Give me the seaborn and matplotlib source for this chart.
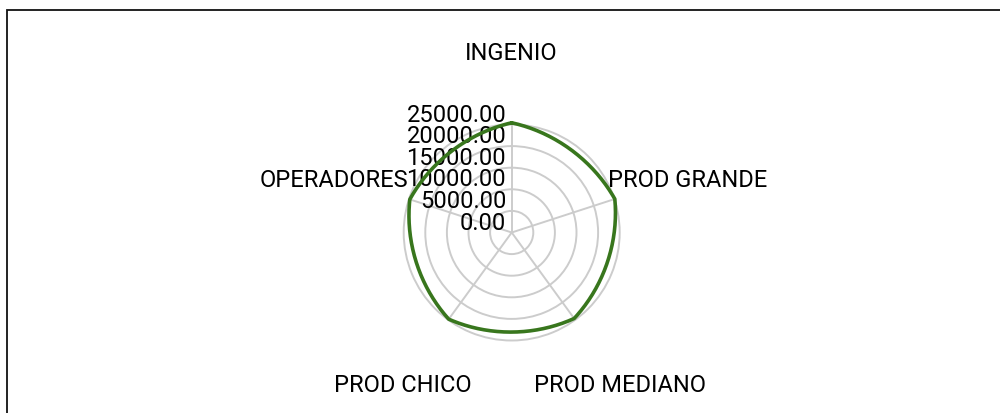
import numpy as np
import matplotlib
matplotlib.use("Agg")
import matplotlib.pyplot as plt
from matplotlib.patches import Rectangle
import seaborn as sns

# data
categories = ["INGENIO", "PROD GRANDE", "PROD MEDIANO", "PROD CHICO", "OPERADORES"]
values = [25400, 25100, 24600, 24800, 24800]
radial_ticks = [0, 5000, 10000, 15000, 20000, 25000]

sns.set_style("white")
plt.rcParams["font.family"] = ["Roboto", "DejaVu Sans"]

W, H = 1000, 414
fig = plt.figure(figsize=(W / 100, H / 100), dpi=100)

# polar axes centred on the radar
cx, cy, R = 511.7, 233.5, 108
ax = fig.add_axes([(cx - R) / W, (H - cy - R) / H, 2 * R / W, 2 * R / H], projection="polar")
ax.set_theta_zero_location("N")
ax.set_theta_direction(-1)

n = len(categories)
angles = np.linspace(0, 2 * np.pi, n, endpoint=False)

# curved segments: blend of polar (arc) and straight interpolation
w = 0.65
s = np.linspace(0, 1, 60)
xs, ys = [], []
for i in range(n):
    t0 = angles[i]
    t1 = angles[i] + 2 * np.pi / n
    r0, r1 = values[i], values[(i + 1) % n]
    th = t0 + s * (t1 - t0)
    rr = r0 + s * (r1 - r0)
    ax_x, ax_y = rr * np.sin(th), rr * np.cos(th)
    p0 = np.array([r0 * np.sin(t0), r0 * np.cos(t0)])
    p1 = np.array([r1 * np.sin(t1), r1 * np.cos(t1)])
    ch_x = p0[0] + s * (p1[0] - p0[0])
    ch_y = p0[1] + s * (p1[1] - p0[1])
    xs.append(w * ax_x + (1 - w) * ch_x)
    ys.append(w * ax_y + (1 - w) * ch_y)
xs = np.concatenate(xs)
ys = np.concatenate(ys)
theta = np.unwrap(np.arctan2(xs, ys))
radius = np.hypot(xs, ys)

sns.lineplot(x=theta, y=radius, sort=False, estimator=None, color="#38761d",
             linewidth=2.6, ax=ax, clip_on=False, zorder=5)

ax.set_ylim(0, 25000)
ax.set_xticks(angles)
ax.set_xticklabels([])
ax.set_yticks(radial_ticks[1:-1])
ax.set_yticklabels([])
ax.set_xlabel("")
ax.set_ylabel("")
ax.grid(True, color="#cccccc", linewidth=1.4)
ax.spines["polar"].set_color("#cccccc")
ax.spines["polar"].set_linewidth(1.4)
ax.set_facecolor("white")

# radial value labels, under the series line
for v in radial_ticks:
    ax.annotate(f"{v:.2f}", xy=(0, v), xytext=(-4, 2.8), textcoords="offset points",
                ha="right", va="baseline", fontsize=17, color="black",
                annotation_clip=False, zorder=4)

# category labels
def ftext(x, y, s, ha):
    fig.text(x / W, 1 - y / H, s, ha=ha, va="baseline", fontsize=17, color="black")

ftext(511.5, 60.5, categories[0], "center")
ftext(608, 187, categories[1], "left")
ftext(620, 392, categories[2], "center")
ftext(403, 392, categories[3], "center")
ftext(408, 187, categories[4], "right")

# frame around the chart
frame = Rectangle((7.3 / W, -0.5), 2, 0.5 + 1 - 11 / H, fill=False,
                  edgecolor="#111111", linewidth=1.3, transform=fig.transFigure, figure=fig)
fig.patches.append(frame)

fig.savefig("out.png", dpi=100)
